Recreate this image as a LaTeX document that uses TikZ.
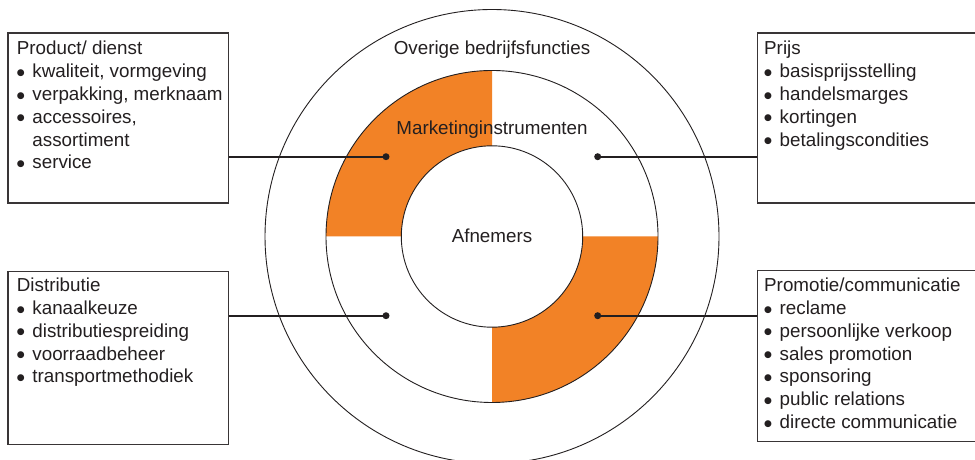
\documentclass[tikz,border=0pt]{standalone}
\usepackage{fontspec}
\setmainfont{Liberation Sans}
\newfontfamily\symfont{DejaVu Sans}
\definecolor{mkorange}{RGB}{242,130,38}
\definecolor{ink}{RGB}{35,31,32}
\newcommand\bitem[1]{\makebox[15.5pt][l]{\raisebox{2.4pt}{\symfont\fontsize{9}{9}\selectfont ●}}#1}
\tikzset{
  box/.style={draw=ink!90, line width=1.3pt, rectangle, inner sep=0pt, anchor=north west},
  txt/.style={font=\fontsize{18.8}{22.8}\selectfont, text=ink, inner sep=0pt, anchor=base west},
  lbl/.style={font=\fontsize{18.8}{22.8}\selectfont, text=ink, inner sep=0pt, anchor=base},
  ring/.style={circle, draw=ink, line width=0.9pt, inner sep=0pt},
  dotmark/.style={circle, fill=ink, inner sep=0pt, minimum size=7pt},
  conn/.style={draw=ink, line width=2.2pt}
}
\begin{document}
\begin{tikzpicture}[x=1pt,y=1pt]
\clip (0,0) rectangle (975,460);
\fill[white] (0,0) rectangle (975,460);
% orange quadrants
\fill[mkorange] (492,389.5) arc[start angle=90,end angle=180,radius=166] -- (401.3,223.5) arc[start angle=180,end angle=90,radius=90.7] -- cycle;
\fill[mkorange] (492,57.5) arc[start angle=270,end angle=360,radius=166] -- (582.7,223.5) arc[start angle=0,end angle=-90,radius=90.7] -- cycle;
% circles
\node[ring, minimum size=454pt] (outer) at (492,223.5) {};
\node[ring, minimum size=332pt] (middle) at (492,223.5) {};
\node[ring, minimum size=181.4pt] (inner) at (492,223.5) {};
\node[lbl] (overige) at (492,405.7) {Overige bedrijfsfuncties};
\node[lbl] (marketing) at (492,325) {Marketinginstrumenten};
\node[lbl] (afnemers) at (492,217.7) {Afnemers};
% boxes
\node[box, minimum width=220.4pt, minimum height=170pt] (prod) at (7.3,427.7) {};
\node[box, minimum width=220.4pt, minimum height=173.3pt] (dist) at (7.3,189.3) {};
\node[box, minimum width=240pt, minimum height=170pt] (prijs) at (756.7,427.7) {};
\node[box, minimum width=240pt, minimum height=170.7pt] (promo) at (756.7,190) {};
% box texts
\node[txt] (prodtxt) at (16.7,405) {\begin{tabular}[t]{@{}l@{}}Product/ dienst\\ \bitem{kwaliteit, vormgeving}\\ \bitem{verpakking, merknaam}\\ \bitem{accessoires,}\\ \hspace*{15.5pt}assortiment\\ \bitem{service}\end{tabular}};
\node[txt] (disttxt) at (16.7,168.3) {\begin{tabular}[t]{@{}l@{}}Distributie\\ \bitem{kanaalkeuze}\\ \bitem{distributiespreiding}\\ \bitem{voorraadbeheer}\\ \bitem{transportmethodiek}\end{tabular}};
\node[txt] (prijstxt) at (764,405) {\begin{tabular}[t]{@{}l@{}}Prijs\\ \bitem{basisprijsstelling}\\ \bitem{handelsmarges}\\ \bitem{kortingen}\\ \bitem{betalingscondities}\end{tabular}};
\node[txt] (promotxt) at (764,168.3) {\begin{tabular}[t]{@{}l@{}}Promotie/communicatie\\ \bitem{reclame}\\ \bitem{persoonlijke verkoop}\\ \bitem{sales promotion}\\ \bitem{sponsoring}\\ \bitem{public relations}\\ \bitem{directe communicatie}\end{tabular}};
% dots
\node[dotmark] (d1) at (386,303.3) {};
\node[dotmark] (d2) at (597.7,303.3) {};
\node[dotmark] (d3) at (386,144.3) {};
\node[dotmark] (d4) at (597.7,144.3) {};
% connectors
\draw[conn] (prod.east |- d1) -- (d1.center);
\draw[conn] (d2.center) -- (prijs.west |- d2);
\draw[conn] (dist.east |- d3) -- (d3.center);
\draw[conn] (d4.center) -- (promo.west |- d4);
\end{tikzpicture}
\end{document}
